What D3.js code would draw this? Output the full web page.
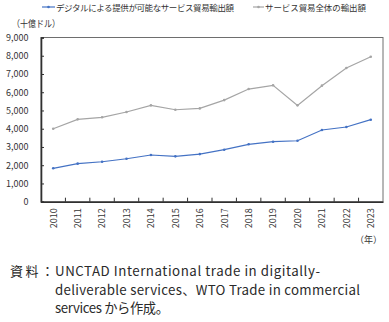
<!DOCTYPE html>
<html><head><meta charset="utf-8">
<script src="https://cdn.jsdelivr.net/npm/d3@7"></script>
<style>body{margin:0;background:#fff;}svg{display:block;font-family:"Noto Sans CJK JP","Noto Sans",sans-serif;}</style>
</head><body>
<script>
const years = ["2010","2011","2012","2013","2014","2015","2016","2017","2018","2019","2020","2021","2022","2023"];
const digitalExports = [1830,2085,2190,2355,2560,2485,2610,2850,3145,3290,3340,3930,4095,4495];
const totalExports = [4000,4515,4625,4915,5280,5040,5115,5570,6175,6380,5280,6360,7325,7945];
const yTicks = [0,1000,2000,3000,4000,5000,6000,7000,8000,9000];
const seriesNames = ["デジタルによる提供が可能なサービス貿易輸出額","サービス貿易全体の輸出額"];
const colors = ["#4472C4","#A5A5A5"];

const W=389,H=322;
const m={l:41,r:6,t:37.5,b:120.3};
const svg=d3.select("body").append("svg").attr("width",W).attr("height",H);
const x=d3.scaleBand().domain(years).range([m.l,W-m.r]);
const y=d3.scaleLinear().domain([0,9000]).range([H-m.b,m.t]);
const fmt=d3.format(",");

// frame
svg.append("rect").attr("x",m.l).attr("y",m.t).attr("width",W-m.r-m.l).attr("height",y(0)-m.t)
  .attr("fill","none").attr("stroke","#6e6e6e").attr("stroke-width",1);

// y axis
const ya=svg.append("g").attr("transform",`translate(${m.l},0)`)
  .call(d3.axisRight(y).tickValues(yTicks).tickSize(3).tickFormat(""));
ya.select(".domain").attr("stroke","#303030").attr("stroke-width",1.6);
ya.selectAll(".tick line").attr("stroke","#303030");
svg.append("g").selectAll("text").data(yTicks).join("text")
  .attr("x",28.5).attr("y",d=>y(d)+3.3).attr("text-anchor","end")
  .attr("font-size",9).attr("fill","#333").text(d=>fmt(d));

// x axis
const xa=svg.append("g").attr("transform",`translate(0,${y(0)})`)
  .call(d3.axisTop(x).tickSize(0).tickFormat(""));
xa.select(".domain").attr("stroke","#303030").attr("stroke-width",1.6);
svg.append("g").selectAll("line").data(years.slice(1)).join("line")
  .attr("x1",d=>x(d)).attr("x2",d=>x(d)).attr("y1",y(0)).attr("y2",y(0)-4)
  .attr("stroke","#303030");
svg.append("g").selectAll("text").data(years).join("text")
  .attr("transform",d=>`translate(${x(d)+x.bandwidth()/2+3.3},${y(0)+6.5}) rotate(-90)`)
  .attr("text-anchor","end").attr("font-size",9).attr("fill","#333").text(d=>d);
svg.append("text").attr("x",382).attr("y",243).attr("text-anchor","end")
  .attr("font-size",9).attr("fill","#333").text("（年）");
svg.append("text").attr("x",12).attr("y",27).attr("font-size",9.5).attr("fill","#333")
  .attr("textLength",48).attr("lengthAdjust","spacingAndGlyphs").text("（十億ドル）");

// lines
const line=d3.line().x((d,i)=>x(years[i])+x.bandwidth()/2).y(d=>y(d));
[totalExports,digitalExports].forEach((s,k)=>{
  const c=colors[1-k];
  svg.append("path").datum(s).attr("d",line).attr("fill","none").attr("stroke",c).attr("stroke-width",1.2);
  svg.append("g").selectAll("circle").data(s).join("circle")
    .attr("cx",(d,i)=>x(years[i])+x.bandwidth()/2).attr("cy",d=>y(d)).attr("r",1.3).attr("fill",c);
});

// legend
const leg=[{x:42,tx:56,w:178},{x:253,tx:265,w:101}];
seriesNames.forEach((n,i)=>{
  const g=svg.append("g");
  g.append("line").attr("x1",leg[i].x).attr("x2",leg[i].tx-1).attr("y1",7).attr("y2",7)
    .attr("stroke",colors[i]).attr("stroke-width",1.2);
  g.append("circle").attr("cx",(leg[i].x+leg[i].tx-1)/2).attr("cy",7).attr("r",1.3).attr("fill",colors[i]);
  g.append("text").attr("x",leg[i].tx).attr("y",10.5).attr("font-size",8.5).attr("fill","#333")
    .attr("textLength",leg[i].w).attr("lengthAdjust","spacing").text(n);
});

// footer
svg.append("text").attr("x",10).attr("y",276).attr("font-size",13).attr("fill","#2a2a2a")
  .attr("textLength",44).attr("lengthAdjust","spacing").text("資料：");
const foot=[["UNCTAD International trade in digitally-",265],["deliverable services、WTO Trade in commercial",305],["services から作成。",114]];
foot.forEach((f,i)=>{
  svg.append("text").attr("x",55).attr("y",276+i*18.6).attr("font-size",13.3).attr("fill","#2a2a2a")
    .attr("textLength",f[1]).attr("lengthAdjust","spacing").text(f[0]);
});
</script>
</body></html>
